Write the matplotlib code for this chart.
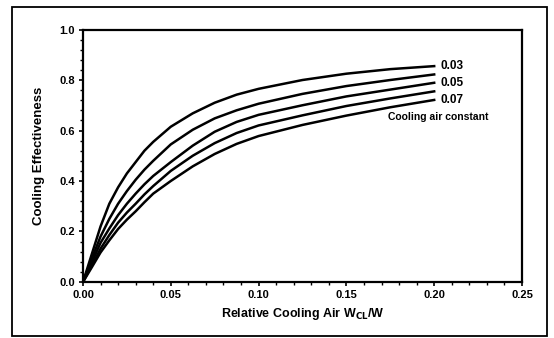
import numpy as np
import matplotlib
matplotlib.use("Agg")
import matplotlib.pyplot as plt
from matplotlib.patches import Rectangle
from matplotlib.ticker import MultipleLocator, FormatStrFormatter

plt.rcParams['font.family'] = ['Liberation Sans', 'DejaVu Sans']
plt.rcParams['font.weight'] = 'bold'

# relative cooling air W_CL/W
wcl = [0, 0.005, 0.01, 0.015, 0.02, 0.025, 0.03, 0.035, 0.04, 0.05, 0.0625,
       0.075, 0.0875, 0.10, 0.125, 0.15, 0.175, 0.20]

# cooling effectiveness, one list per cooling air constant
eff_003 = [0, 0.11, 0.22, 0.31, 0.375, 0.43, 0.475, 0.52, 0.555, 0.615, 0.668,
           0.71, 0.742, 0.765, 0.80, 0.825, 0.843, 0.855]
eff_004 = [0, 0.092, 0.18, 0.25, 0.31, 0.36, 0.405, 0.445, 0.48, 0.545, 0.603,
           0.648, 0.68, 0.706, 0.745, 0.776, 0.80, 0.822]
eff_005 = [0, 0.078, 0.155, 0.212, 0.265, 0.31, 0.35, 0.387, 0.42, 0.475, 0.54,
           0.595, 0.634, 0.662, 0.70, 0.735, 0.762, 0.789]
eff_006 = [0, 0.066, 0.132, 0.186, 0.235, 0.275, 0.31, 0.347, 0.38, 0.44, 0.50,
           0.55, 0.59, 0.62, 0.66, 0.697, 0.727, 0.755]
eff_007 = [0, 0.058, 0.117, 0.165, 0.21, 0.247, 0.28, 0.316, 0.35, 0.40, 0.458,
           0.507, 0.547, 0.578, 0.622, 0.659, 0.692, 0.721]

curves = [eff_003, eff_004, eff_005, eff_006, eff_007]
labels = {0: '0.03', 2: '0.05', 4: '0.07'}

fig = plt.figure(figsize=(5.54, 3.38), dpi=100)
ax = fig.add_axes([0.1498, 0.1657, 0.7924, 0.747])

for i, c in enumerate(curves):
    ax.plot(wcl, c, color='black', lw=1.8, solid_joinstyle='round')
    if i in labels:
        ax.text(0.2035, c[-1], labels[i], fontsize=8.5, fontweight='bold',
                va='center', ha='left')

ax.text(0.1735, 0.655, 'Cooling air constant', fontsize=7.5, fontweight='bold',
        va='center', ha='left')

ax.set_xlim(0, 0.25)
ax.set_ylim(0, 1.0)
ax.xaxis.set_major_locator(MultipleLocator(0.05))
ax.xaxis.set_minor_locator(MultipleLocator(0.01))
ax.yaxis.set_major_locator(MultipleLocator(0.2))
ax.yaxis.set_minor_locator(MultipleLocator(0.04))
ax.xaxis.set_major_formatter(FormatStrFormatter('%.2f'))
ax.yaxis.set_major_formatter(FormatStrFormatter('%.1f'))
ax.tick_params(which='major', direction='out', length=3, width=1.2, labelsize=8, pad=3)
ax.tick_params(which='minor', direction='out', length=2, width=1)
for lab in ax.get_xticklabels() + ax.get_yticklabels():
    lab.set_fontweight('bold')
for s in ax.spines.values():
    s.set_linewidth(1.6)

ax.set_xlabel('Relative Cooling Air W$_{\\mathbf{CL}}$/W', fontsize=9,
              fontweight='bold', labelpad=4)
ax.set_ylabel('Cooling Effectiveness', fontsize=9.5, fontweight='bold', labelpad=10)

# outer frame of the scanned figure
fig.patches.append(Rectangle((0.0217, 0.006), 0.965, 0.973, transform=fig.transFigure,
                             fill=False, edgecolor='black', lw=1.3))

fig.savefig('out.png', dpi=100)
